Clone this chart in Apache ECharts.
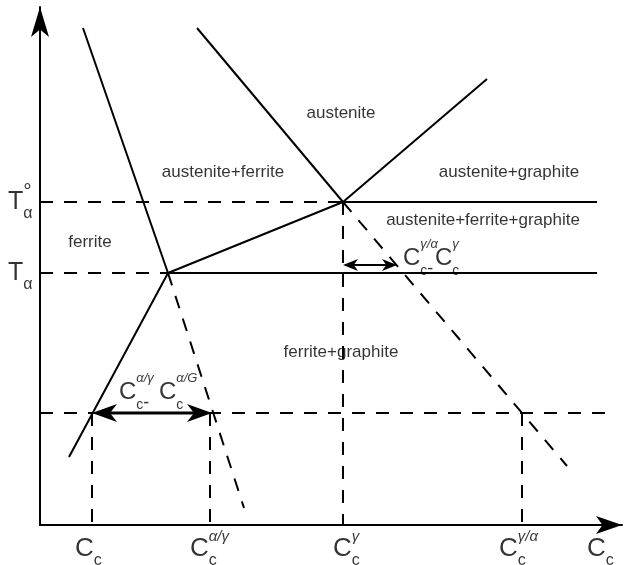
<!DOCTYPE html>
<html>
<head>
<meta charset="utf-8">
<script src="https://cdn.jsdelivr.net/npm/echarts@6/dist/echarts.min.js"></script>
<style>
  html, body { margin: 0; padding: 0; background: #fff; }
  #chart { width: 624px; height: 565px; }
</style>
</head>
<body>
<div id="chart"></div>
<script>
// Schematic Fe–C section: carbon content (x) against temperature (y), arbitrary units.

// Isotherms
const tAlphaZero = 323;   // T_α°
const tAlpha = 252;       // T_α
const tLow = 112;         // lower working temperature

// Characteristic carbon contents on the lower isotherm / at T_α°
const cC = 52;            // C_c
const cAlphaGamma = 170;  // C_c^{α/γ}
const cGamma = 303;       // C_c^γ
const cGammaAlpha = 482;  // C_c^{γ/α}
const cAlphaG = 172;      // C_c^{α/G}
const cGammaAlphaT = 357; // C_c^{γ/α} at T_α°

// Phase boundaries (solid) and their metastable extensions (dashed)
const alphaGammaUpper = [[43, 497], [128, 252]];
const alphaGammaUpperExt = [[128, 252], [204, 17]];
const alphaLower = [[29, 68], [128, 252]];
const gammaFerriteGraphite = [[128, 252], [303, 323]];
const gammaLeft = [[157, 497], [303, 323]];
const gammaLeftExt = [[303, 323], [527, 59]];
const gammaGraphite = [[303, 323], [447, 446]];

// Isotherm segments
const tAlphaZeroSolid = [[303, 323], [557, 323]];
const tAlphaZeroDash = [[0, 323], [303, 323]];
const tAlphaSolid = [[128, 252], [557, 252]];
const tAlphaDash = [[0, 252], [128, 252]];
const tLowDash = [[0, 112], [575, 112]];

// Drop lines to the composition axis
const dropLines = [
  [[cC, tLow], [cC, 0]],
  [[cAlphaGamma, tLow], [cAlphaGamma, 0]],
  [[cGamma, tAlphaZero], [cGamma, 0]],
  [[cGammaAlpha, tLow], [cGammaAlpha, 0]]
];

// Double arrows: [from, to, level]
const spanLower = [[cC, cAlphaG, tLow]];
const spanUpper = [[cGamma, cGammaAlphaT, 260]];

// Phase field names and their anchor points
const phaseNames = ['austenite', 'austenite+ferrite', 'austenite+graphite',
  'austenite+ferrite+graphite', 'ferrite', 'ferrite+graphite'];
const phaseAnchors = [[301, 412], [183, 353], [469, 353], [443, 305], [50, 283], [301, 173]];

const FONT = '"Liberation Sans", Arial, Helvetica, sans-serif';
const INK = '#000';
const DASH = [13, 11];

function seg(points, dashed, width) {
  return {
    type: 'line', data: points, symbol: 'none', silent: true, clip: false,
    lineStyle: { color: INK, width: width || 2, type: dashed ? DASH : 'solid', cap: 'butt' },
    z: 3
  };
}

// Rich-text styles for symbols with sub- and superscripts
function richSet(big, sub, sup, subH, supH, italicSup) {
  const L = 40;
  return {
    B: { fontFamily: FONT, fontSize: big, lineHeight: L, color: INK, verticalAlign: 'middle' },
    Bx: { fontFamily: FONT, fontSize: big, lineHeight: L, color: 'rgba(0,0,0,0)', verticalAlign: 'middle' },
    s: { fontFamily: FONT, fontSize: sub, lineHeight: subH, color: INK, verticalAlign: 'bottom' },
    p: { fontFamily: FONT, fontSize: sup, lineHeight: supH, color: INK, verticalAlign: 'top',
         fontStyle: italicSup ? 'italic' : 'normal' },
    d: { fontFamily: FONT, fontSize: 18, lineHeight: 36, color: INK, verticalAlign: 'bottom' }
  };
}
const richAxis = richSet(26, 16, 15, 35, 9, true);
const richNote = richSet(24, 14, 13, 31, 16, true);
const richT = richSet(25, 16, 21, 37, 41, false);

// A symbol with subscript and optional superscript, stacked after the base letter
function scripted(pos, base, sub, sup, rich, tail) {
  const items = [{
    value: pos,
    label: { formatter: '{B|' + base + '}{s|' + sub + '}' + (tail ? '{d|' + tail + '}' : ''), rich: rich }
  }];
  if (sup) {
    items.push({ value: pos, label: { formatter: '{Bx|' + base + '}{p|' + sup + '}', rich: rich } });
  }
  return items;
}

const symbolItems = [].concat(
  scripted([-32, tAlphaZero], 'T', 'α', '°', richT),
  scripted([-32, tAlpha], 'T', 'α', null, richT),
  scripted([35, -24], 'C', 'c', null, richAxis),
  scripted([150, -24], 'C', 'c', 'α/γ', richAxis),
  scripted([293, -24], 'C', 'c', 'γ', richAxis),
  scripted([459, -24], 'C', 'c', 'γ/α', richAxis),
  scripted([547, -24], 'C', 'c', null, richAxis),
  scripted([79, 133], 'C', 'c', 'α/γ', richNote, '-'),
  scripted([119, 133], 'C', 'c', 'α/G', richNote),
  scripted([363, 267], 'C', 'c', 'γ/α', richNote, '-'),
  scripted([395, 267], 'C', 'c', 'γ', richNote)
);

function doubleArrow(headLen, headWidth, lineWidth) {
  return function (params, api) {
    const a = api.coord([api.value(0), api.value(2)]);
    const b = api.coord([api.value(1), api.value(2)]);
    const y = a[1];
    const hw = headWidth / 2;
    return {
      type: 'group',
      children: [
        { type: 'line', shape: { x1: a[0] + headLen * 0.6, y1: y, x2: b[0] - headLen * 0.6, y2: y },
          style: { stroke: INK, lineWidth: lineWidth } },
        { type: 'polygon', shape: { points: [[a[0], y], [a[0] + headLen, y - hw], [a[0] + headLen * 0.72, y], [a[0] + headLen, y + hw]] },
          style: { fill: INK } },
        { type: 'polygon', shape: { points: [[b[0], y], [b[0] - headLen, y - hw], [b[0] - headLen * 0.72, y], [b[0] - headLen, y + hw]] },
          style: { fill: INK } }
      ]
    };
  };
}

const chart = echarts.init(document.getElementById('chart'), null, { renderer: 'canvas' });

const series = [
  seg(alphaGammaUpper), seg(alphaGammaUpperExt, true),
  seg(alphaLower),
  seg(gammaFerriteGraphite),
  seg(gammaLeft), seg(gammaLeftExt, true),
  seg(gammaGraphite),
  seg(tAlphaZeroSolid), seg(tAlphaZeroDash, true),
  seg(tAlphaSolid), seg(tAlphaDash, true),
  seg(tLowDash, true)
].concat(dropLines.map(d => seg(d, true)));

series.push({
  type: 'custom', renderItem: doubleArrow(25, 18, 3), data: spanLower, silent: true, z: 5
});
series.push({
  type: 'custom', renderItem: doubleArrow(15, 12, 1.8), data: spanUpper, silent: true, z: 5
});

series.push({
  type: 'scatter', silent: true, clip: false, symbolSize: 0,
  data: phaseAnchors.map((p, i) => ({ value: p, name: phaseNames[i] })),
  label: {
    show: true, position: 'inside', formatter: '{b}',
    fontFamily: FONT, fontSize: 17, color: INK
  },
  z: 6
});

series.push({
  type: 'scatter', silent: true, clip: false, symbolSize: 0,
  data: symbolItems,
  label: { show: true, position: [0, 0], align: 'left', verticalAlign: 'middle' },
  z: 6
});

chart.setOption({
  animation: false,
  backgroundColor: '#fff',
  grid: { left: 40, right: 2, top: 7, bottom: 40, containLabel: false },
  xAxis: {
    type: 'value', min: 0, max: 582,
    axisLine: { show: true, symbol: ['none', 'arrow'], symbolSize: [13.5, 26], lineStyle: { color: INK, width: 2 } },
    axisTick: { show: false }, axisLabel: { show: false }, splitLine: { show: false }
  },
  yAxis: {
    type: 'value', min: 0, max: 518,
    axisLine: { show: true, symbol: ['none', 'arrow'], symbolSize: [13.5, 30], lineStyle: { color: INK, width: 2 } },
    axisTick: { show: false }, axisLabel: { show: false }, splitLine: { show: false }
  },
  series: series
});
</script>
</body>
</html>
